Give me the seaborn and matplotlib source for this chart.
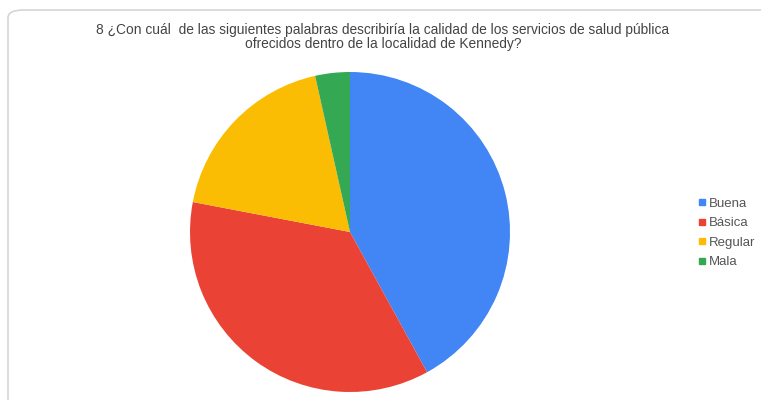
import matplotlib.pyplot as plt
import seaborn as sns
from matplotlib.patches import FancyBboxPatch
from matplotlib.lines import Line2D

# Datos (porcentaje aproximado de respuestas)
categorias = ["Buena", "Básica", "Regular", "Mala"]
valores = [42, 36, 18.5, 3.5]
colores = ["#4285F4", "#EA4335", "#FBBC04", "#34A853"]

titulo = ("8 ¿Con cuál  de las siguientes palabras describiría la calidad de los servicios de salud pública\n"
          "ofrecidos dentro de la localidad de Kennedy?")

sns.set_theme(style="white")
plt.rcParams['font.family'] = ['Liberation Sans', 'DejaVu Sans']

W, H = 761, 400
fig = plt.figure(figsize=(W / 100, H / 100), dpi=100)
fig.patch.set_facecolor("white")

# Marco redondeado de la tarjeta (detras de todo)
marco = FancyBboxPatch((8 / W, -20 / H), 800 / W, (H - 10 + 20) / H,
                       boxstyle="round,pad=0,rounding_size=0.02",
                       transform=fig.transFigure, facecolor="white",
                       edgecolor="#d6d6d6", linewidth=1.2, zorder=-5)
fig.patches.append(marco)

# Ejes del pastel: centro (350, 232), radio 160 px
cx, cy, r = 350, 232, 160
ax = fig.add_axes([(cx - r) / W, (H - cy - r) / H, 2 * r / W, 2 * r / H])
ax.set_zorder(2)
ax.patch.set_alpha(0)
ax.pie(valores, colors=colores, startangle=90, counterclock=False,
       radius=1, wedgeprops=dict(linewidth=0))
ax.set_xlim(-1, 1)
ax.set_ylim(-1, 1)
ax.set_aspect("equal")
ax.axis("off")

fig.text(383 / W, 1 - 37 / H, titulo, ha="center", va="center",
         fontsize=9.9, color="#444444", linespacing=1.05, zorder=3)

handles = [Line2D([0], [0], marker="s", linestyle="none", markersize=5,
                  markerfacecolor=c, markeredgecolor=c) for c in colores]
leg = fig.legend(handles, categorias, loc="center left",
                 bbox_to_anchor=(699 / W, 1 - 233 / H), bbox_transform=fig.transFigure,
                 frameon=False, fontsize=9.5, labelcolor="#555555",
                 handlelength=0.5, handletextpad=0.25, labelspacing=0.55, borderpad=0,
                 borderaxespad=0)
leg.set_zorder(3)

fig.savefig("out.png", dpi=100, facecolor="white")
print("Grafico guardado como out.png")
